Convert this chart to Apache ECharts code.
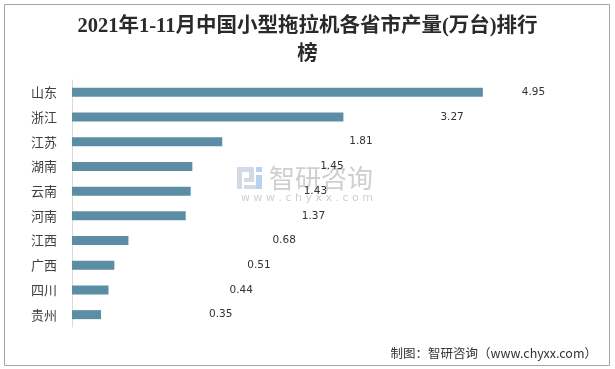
<!DOCTYPE html>
<html>
<head>
<meta charset="utf-8">
<script src="https://cdn.jsdelivr.net/npm/echarts@6/dist/echarts.min.js"></script>
<style>html,body{margin:0;padding:0;background:#fff}#c{width:615px;height:369px}</style>
</head>
<body>
<div id="c"></div>
<script>
var titleText = '2021年1-11月中国小型拖拉机各省市产量(万台)排行\n榜';
var categories = ['山东', '浙江', '江苏', '湖南', '云南', '河南', '江西', '广西', '四川', '贵州'];
var values = [4.95, 3.27, 1.81, 1.45, 1.43, 1.37, 0.68, 0.51, 0.44, 0.35];
var labelGaps = [39, 97, 127, 128, 113, 116, 144, 133, 121, 108];
var sourceText = '制图：智研咨询（www.chyxx.com）';

var chart = echarts.init(document.getElementById('c'), null, {renderer: 'canvas'});
var seriesData = values.map(function (v, i) {
  return {value: v, label: {distance: labelGaps[i]}};
});
chart.setOption({
  animation: false,
  backgroundColor: '#fff',
  title: {
    text: titleText,
    left: 'center',
    top: 8,
    textStyle: {
      fontFamily: '"Liberation Serif", "DejaVu Serif", "Noto Sans CJK SC", serif',
      fontWeight: 'bold',
      fontSize: 20.5,
      lineHeight: 28,
      color: '#2a2a2a'
    }
  },
  grid: {left: 72, right: 45, top: 80, bottom: 42},
  xAxis: {
    type: 'value', min: 0, max: 6,
    show: false,
    splitLine: {show: false}
  },
  yAxis: {
    type: 'category',
    data: categories,
    inverse: true,
    axisLine: {show: true, lineStyle: {color: '#d9d9d9', width: 1}},
    axisTick: {show: false},
    axisLabel: {
      margin: 15,
      fontSize: 13,
      color: '#404040',
      fontFamily: '"Noto Sans CJK SC", sans-serif'
    }
  },
  series: [{
    type: 'bar',
    data: seriesData,
    barWidth: 9,
    itemStyle: {color: '#5b8ea5'},
    label: {
      show: true,
      position: 'right',
      fontSize: 10.5,
      color: '#333',
      fontFamily: '"DejaVu Sans", sans-serif'
    }
  }],
  graphic: [
    {type: 'rect', silent: true, z: 100,
     shape: {x: 4.5, y: 4.5, width: 605, height: 361},
     style: {fill: 'none', stroke: '#a6a6a6', lineWidth: 1}},
    {type: 'group', z: 0, silent: true, children: [
      {type: 'rect', shape: {x: 237, y: 167, width: 5, height: 22}, style: {fill: '#d3dae6'}},
      {type: 'rect', shape: {x: 242, y: 167, width: 12, height: 5}, style: {fill: '#d3dae6'}},
      {type: 'rect', shape: {x: 249, y: 172, width: 5, height: 6}, style: {fill: '#d3dae6'}},
      {type: 'rect', shape: {x: 244, y: 178, width: 10, height: 4}, style: {fill: '#d3dae6'}},
      {type: 'rect', shape: {x: 256, y: 167, width: 6, height: 5}, style: {fill: '#b9d3ef'}},
      {type: 'rect', shape: {x: 256, y: 175, width: 6, height: 14}, style: {fill: '#b9d3ef'}},
      {type: 'rect', shape: {x: 244, y: 185, width: 12, height: 4}, style: {fill: '#d3dae6'}},
      {type: 'text', style: {text: '智研咨询', x: 269, y: 178, textVerticalAlign: 'middle',
        font: '26px "Noto Sans CJK SC", sans-serif', fill: '#cfcfcf'}},
      {type: 'text', style: {text: 'w w w . c h y x x . c o m', x: 307, y: 198, textAlign: 'center', textVerticalAlign: 'middle',
        font: '11px "DejaVu Sans", sans-serif', fill: '#cfcfcf'}}
    ]},
    {type: 'text', silent: true, z: 100,
     style: {text: sourceText, x: 597, y: 353, textAlign: 'right', textVerticalAlign: 'middle',
       font: '12.5px "Noto Sans CJK SC", sans-serif', fill: '#333'}}
  ]
});
</script>
</body>
</html>
